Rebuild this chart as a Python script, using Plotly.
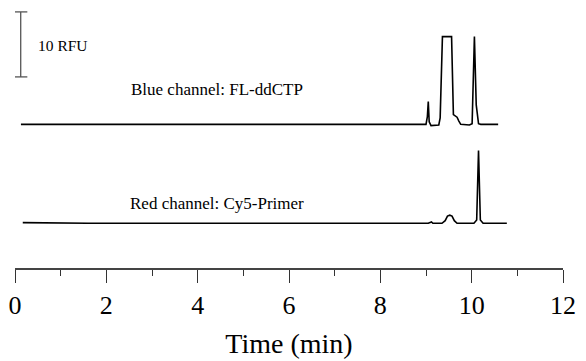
import plotly.graph_objects as go

# ---- data (time in min, signal in RFU relative to channel baseline) ----
blue_time = [0.13, 9.00, 9.03, 9.05, 9.07, 9.11, 9.28, 9.31, 9.36, 9.56, 9.60, 9.63,
             9.68, 9.72, 9.76, 9.95, 10.01, 10.06, 10.10, 10.15, 10.20, 10.58]
blue_rfu = [0.0, 0.0, 1.2, 3.5, 0.4, -0.2, -0.1, 1.0, 13.5, 13.5, 1.5, 1.3,
            1.1, 0.5, 0.0, -0.1, 0.1, 13.5, 3.0, 0.1, 0.0, 0.0]

red_time = [0.17, 1.60, 9.05, 9.10, 9.12, 9.15, 9.35, 9.42, 9.47, 9.52, 9.57, 9.62,
            9.68, 10.05, 10.11, 10.15, 10.19, 10.25, 10.77]
red_rfu = [0.1, 0.0, 0.0, 0.15, 0.2, 0.0, 0.0, 0.4, 1.1, 1.25, 1.1, 0.4,
           0.0, 0.0, 0.5, 11.2, 0.5, 0.0, 0.0]

channel_labels = ["Blue channel: FL-ddCTP", "Red channel: Cy5-Primer"]
scale_rfu = 10
scale_label = "10 RFU"
x_ticks = [0, 2, 4, 6, 8, 10, 12]

# ---- layout constants ----
blue_offset = 22.1
red_offset = 6.88
FONT = "Liberation Serif, Times New Roman, serif"

fig = go.Figure()
fig.add_trace(go.Scatter(x=blue_time, y=[v + blue_offset for v in blue_rfu], mode="lines",
                         line=dict(color="black", width=1.6), showlegend=False, hoverinfo="skip"))
fig.add_trace(go.Scatter(x=red_time, y=[v + red_offset for v in red_rfu], mode="lines",
                         line=dict(color="black", width=1.6), showlegend=False, hoverinfo="skip"))

# scale bar
sb_x, sb_y0 = 0.125, 29.4
sb_y1 = sb_y0 + scale_rfu
bar_col = "#555555"
fig.add_shape(type="line", x0=sb_x, x1=sb_x, y0=sb_y0, y1=sb_y1, line=dict(color=bar_col, width=1.3))
fig.add_shape(type="line", x0=-0.015, x1=0.27, y0=sb_y0, y1=sb_y0, line=dict(color=bar_col, width=1.3))
fig.add_shape(type="line", x0=-0.015, x1=0.27, y0=sb_y1, y1=sb_y1, line=dict(color=bar_col, width=1.3))
fig.add_annotation(x=0.46, y=34.3, text=scale_label, showarrow=False, xanchor="left", yanchor="middle",
                   font=dict(family=FONT, size=15.5, color="black"))

fig.add_annotation(x=2.50, y=27.4, text=channel_labels[0], showarrow=False, xanchor="left", yanchor="middle",
                   font=dict(family=FONT, size=17, color="black"))
fig.add_annotation(x=2.47, y=10.0, text=channel_labels[1], showarrow=False, xanchor="left", yanchor="middle",
                   font=dict(family=FONT, size=17, color="black"))

fig.update_layout(
    width=586, height=361, autosize=False,
    margin=dict(l=15, r=23, t=5, b=93),
    paper_bgcolor="white", plot_bgcolor="white",
    xaxis=dict(range=[0, 12], tickvals=x_ticks, ticks="outside", ticklen=13, tickwidth=1.2,
               tickcolor="#333333", showline=True, linecolor="#444444", linewidth=1.5,
               showgrid=False, zeroline=False,
               minor=dict(dtick=1, ticks="outside", ticklen=6, tickwidth=1.2, tickcolor="#333333", showgrid=False),
               tickfont=dict(family=FONT, size=26, color="black"),
               title=dict(text="Time (min)", font=dict(family=FONT, size=28, color="black"), standoff=14)),
    yaxis=dict(range=[0, 263 / 6.5], visible=False, showgrid=False, zeroline=False),
)

fig.write_html("out.html")
